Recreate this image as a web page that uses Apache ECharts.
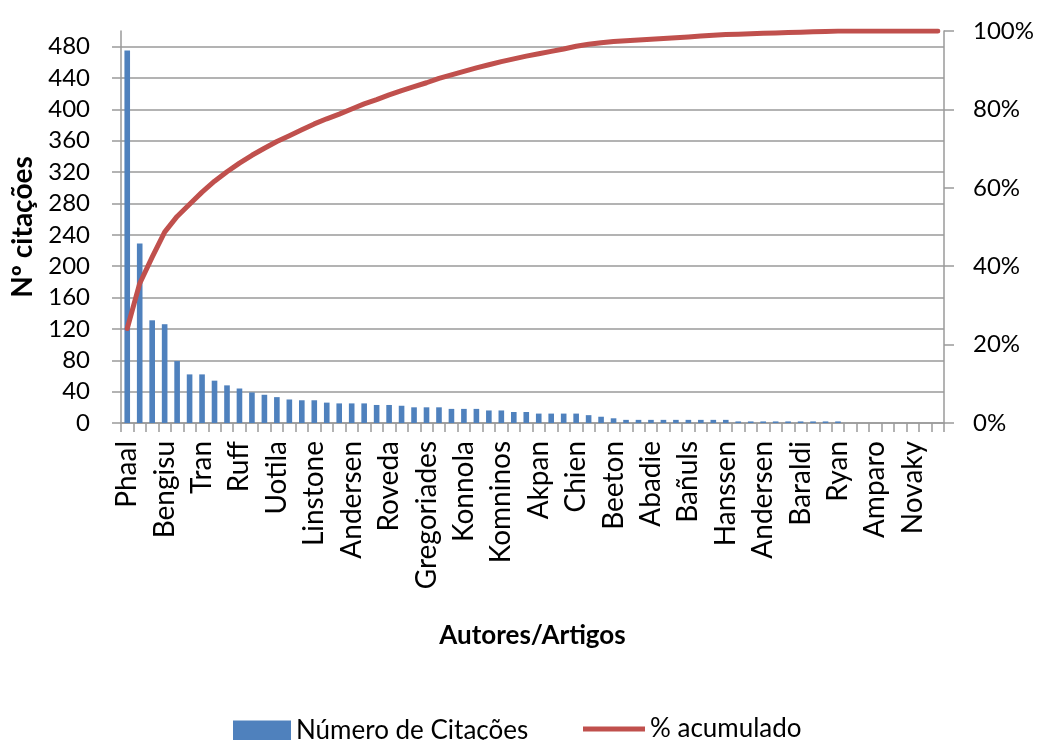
<!DOCTYPE html>
<html>
<head>
<meta charset="utf-8">
<script src="https://cdn.jsdelivr.net/npm/echarts@6/dist/echarts.min.js"></script>
<style>
  html, body { margin: 0; padding: 0; background: #fff; }
  #chart { width: 1041px; height: 740px; }
</style>
</head>
<body>
<div id="chart"></div>
<script>
// Author names printed on the category axis (one every third article)
const tickLabels = [
  'Phaal', 'Bengisu', 'Tran', 'Ruff', 'Uotila', 'Linstone', 'Andersen', 'Roveda',
  'Gregoriades', 'Konnola', 'Komninos', 'Akpan', 'Chien', 'Beeton', 'Abadie',
  'Bañuls', 'Hanssen', 'Andersen', 'Baraldi', 'Ryan', 'Amparo', 'Novaky'
];
const labelStep = 3;
const articleCount = 66;

// Number of citations per article, sorted descending
const citations = [
  475, 229, 131, 126, 79, 62, 62, 54, 48, 44,
  39, 36, 33, 30, 29, 29, 26, 25, 25, 25,
  23, 23, 22, 20, 20, 20, 18, 18, 18, 16,
  16, 14, 14, 12, 12, 12, 12, 10, 8, 6,
  4, 4, 4, 4, 4, 4, 4, 4, 4, 2,
  2, 2, 2, 2, 2, 2, 2, 2, 0, 0,
  0, 0, 0, 0, 0, 0
];

// Accumulated share of citations (%)
const accumulated = [
  24.1, 35.6, 42.3, 48.7, 52.7, 55.8, 58.9, 61.7, 64.1, 66.3,
  68.3, 70.1, 71.8, 73.3, 74.8, 76.3, 77.6, 78.8, 80.1, 81.4,
  82.5, 83.7, 84.8, 85.8, 86.8, 87.9, 88.8, 89.7, 90.6, 91.4,
  92.2, 92.9, 93.6, 94.2, 94.8, 95.4, 96.1, 96.6, 97.0, 97.3,
  97.5, 97.7, 97.9, 98.1, 98.3, 98.5, 98.7, 98.9, 99.1, 99.2,
  99.3, 99.4, 99.5, 99.6, 99.7, 99.8, 99.9, 100, 100, 100,
  100, 100, 100, 100, 100, 100
];

// Left axis ticks (citations) and right axis ticks (%)
const countTicks = [0, 40, 80, 120, 160, 200, 240, 280, 320, 360, 400, 440, 480];
const pctTicks = [0, 20, 40, 60, 80, 100];

// Category list: named slots every third article, the rest unlabeled
const categories = [];
for (let i = 0; i < articleCount; i++) {
  categories.push(i % labelStep === 0 ? tickLabels[i / labelStep] : '');
}

const FONT = 'Lato';
const AXIS_GRAY = '#9a9a9a';
const BLUE = '#4F81BD';
const RED = '#C0504D';

const chart = echarts.init(document.getElementById('chart'), null, { renderer: 'canvas' });

chart.setOption({
  animation: false,
  backgroundColor: '#ffffff',
  textStyle: { fontFamily: FONT, color: '#000' },
  grid: {
    left: 121, right: 97, top: 31, bottom: 317,
    containLabel: false,
    outerBoundsMode: 'none'
  },
  legend: [
    {
      data: [{ name: 'Número de Citações', icon: 'rect' }],
      left: 228, top: 713,
      itemWidth: 58, itemHeight: 21,
      textStyle: { fontFamily: FONT, fontSize: 26, color: '#000' }
    },
    {
      data: [{ name: '% acumulado', icon: 'rect' }],
      left: 578, top: 711,
      itemWidth: 62, itemHeight: 5,
      textStyle: { fontFamily: FONT, fontSize: 26, color: '#000' }
    }
  ],
  xAxis: {
    type: 'category',
    data: categories,
    boundaryGap: true,
    name: 'Autores/Artigos',
    nameLocation: 'middle',
    nameGap: 200,
    nameTextStyle: { fontFamily: FONT, fontSize: 26, fontWeight: 'bold', color: '#000' },
    axisLine: { show: true, lineStyle: { color: AXIS_GRAY, width: 1.5 } },
    axisTick: { show: true, interval: 0, length: 9, lineStyle: { color: AXIS_GRAY, width: 1.5 } },
    axisLabel: {
      interval: labelStep - 1,
      rotate: 90,
      margin: 18,
      fontFamily: FONT,
      fontSize: 28,
      color: '#000'
    },
    splitLine: { show: false }
  },
  yAxis: [
    {
      type: 'value',
      min: 0, max: 500, interval: 40,
      position: 'left',
      name: 'Nº citações',
      nameLocation: 'middle',
      nameGap: 84,
      nameTextStyle: { fontFamily: FONT, fontSize: 28, fontWeight: 'bold', color: '#000' },
      axisLine: { show: true, lineStyle: { color: AXIS_GRAY, width: 1.5 } },
      axisTick: {
        show: true, length: 9, customValues: countTicks,
        lineStyle: { color: AXIS_GRAY, width: 1.5 }
      },
      axisLabel: {
        customValues: countTicks,
        margin: 31,
        fontFamily: FONT, fontSize: 24, color: '#000'
      },
      splitLine: { show: true, lineStyle: { color: AXIS_GRAY, width: 1.5 } }
    },
    {
      type: 'value',
      min: 0, max: 100, interval: 20,
      position: 'right',
      axisLine: { show: true, lineStyle: { color: AXIS_GRAY, width: 1.5 } },
      axisTick: {
        show: true, length: 10, customValues: pctTicks,
        lineStyle: { color: AXIS_GRAY, width: 1.5 }
      },
      axisLabel: {
        customValues: pctTicks,
        margin: 29,
        formatter: '{value}%',
        fontFamily: FONT, fontSize: 24, color: '#000'
      },
      splitLine: { show: false }
    }
  ],
  series: [
    {
      name: 'Número de Citações',
      type: 'bar',
      data: citations,
      barWidth: '45%',
      itemStyle: { color: BLUE },
      z: 2
    },
    {
      name: '% acumulado',
      type: 'line',
      yAxisIndex: 1,
      data: accumulated,
      symbol: 'none',
      lineStyle: { color: RED, width: 5, cap: 'round', join: 'round' },
      itemStyle: { color: RED },
      z: 3
    }
  ]
});
</script>
</body>
</html>
